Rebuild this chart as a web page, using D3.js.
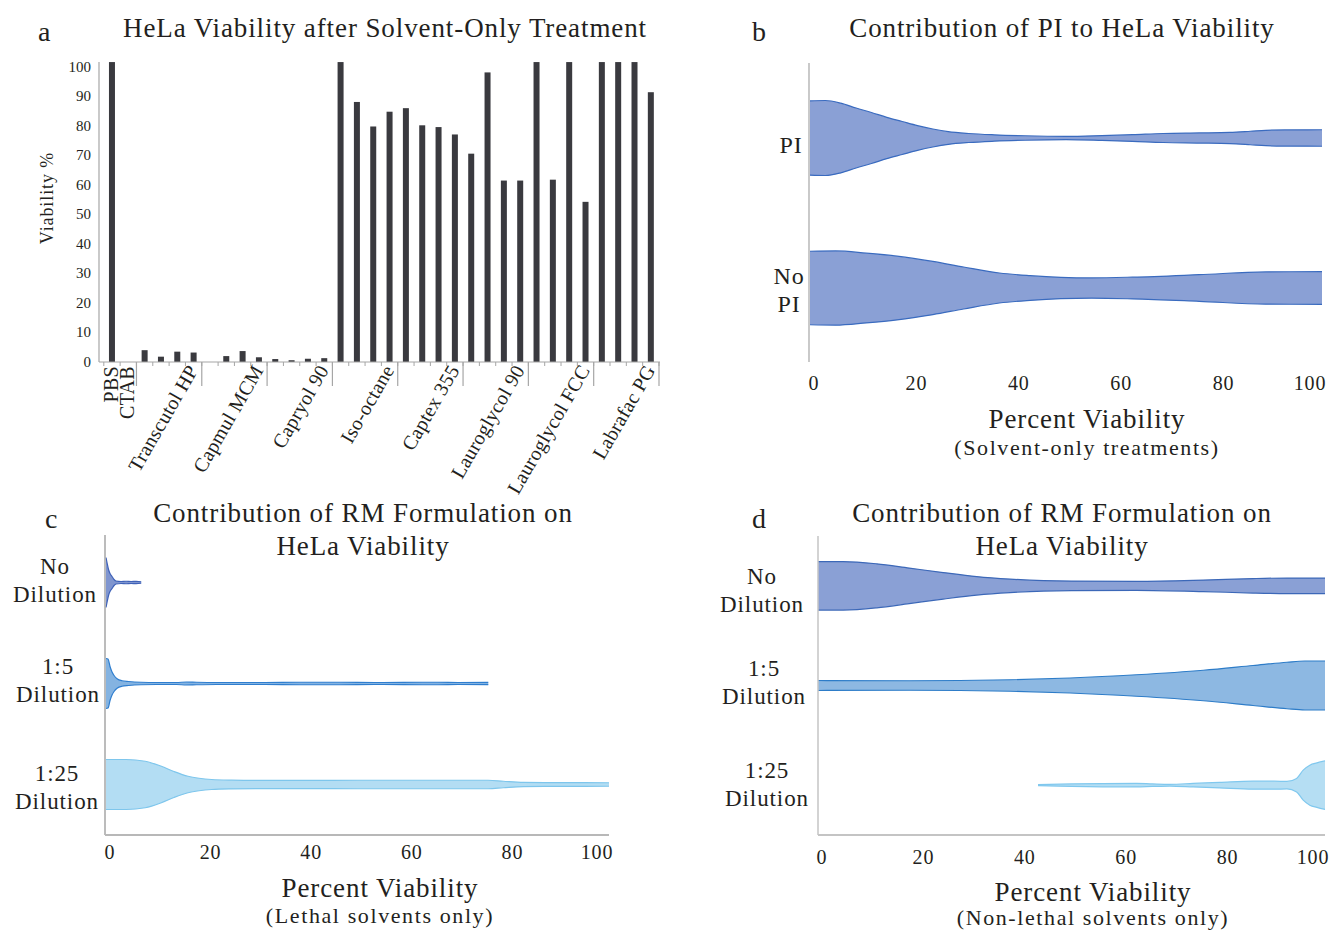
<!DOCTYPE html>
<html>
<head>
<meta charset="utf-8">
<script src="https://cdn.jsdelivr.net/npm/d3@7"></script>
<style>
  body { margin: 0; background: #fff; }
  text { font-family: "Liberation Serif", "DejaVu Serif", serif; fill: #231f20; letter-spacing: 0.9px; }
</style>
</head>
<body>
<svg id="fig" width="1332" height="931"></svg>
<script>
// ---- panel a: solvent-only bars ----
const solvents = ["PBS", "CTAB", "Transcutol HP", "Capmul MCM", "Capryol 90", "Iso-octane",
  "Captex 355", "Lauroglycol 90", "Lauroglycol FCC", "Labrafac PG"];
const groupSizes = [1, 1, 4, 4, 4, 4, 4, 4, 4, 4];
const viability = [
  101.5,
  0,
  4.0, 1.8, 3.5, 3.2,
  0, 2.0, 3.7, 1.6,
  1.0, 0.6, 1.1, 1.3,
  101.5, 88, 79.7, 84.7,
  85.9, 80.1, 79.5, 77,
  70.5, 98, 61.4, 61.4,
  101.5, 61.7, 101.5, 54.2,
  101.5, 101.5, 101.5, 91.3
];
const viabilityTicks = [0, 10, 20, 30, 40, 50, 60, 70, 80, 90, 100];

// ---- violin profiles: [percent viability, relative density] ----
const pctTicks = [0, 20, 40, 60, 80, 100];

const piRows = ["PI", "No PI"];
const piProfile = [[0, 0.99], [3, 1.0], [6, 0.93], [9, 0.8], [12, 0.68], [15, 0.55], [18, 0.44],
  [21, 0.33], [24, 0.24], [27, 0.17], [31, 0.12], [36, 0.085], [42, 0.06], [50, 0.045], [57, 0.065],
  [63, 0.09], [69, 0.12], [76, 0.135], [82, 0.15], [86, 0.18], [89, 0.205], [93, 0.215], [100, 0.22]];
const noPiProfile = [[0, 0.98], [5, 0.99], [11, 0.93], [17, 0.85], [24, 0.71], [30, 0.56], [37, 0.4],
  [43, 0.33], [49, 0.285], [55, 0.27], [63, 0.29], [76, 0.355], [89, 0.43], [100, 0.435]];

const dilutionRows = ["No Dilution", "1:5 Dilution", "1:25 Dilution"];
const lethalNoDil = [[0, 1.0], [0.25, 0.75], [0.5, 0.52], [0.8, 0.36], [1.2, 0.24], [1.6, 0.12],
  [2.0, 0.06], [3, 0.04], [4, 0.05], [5, 0.04], [6, 0.045], [7, 0.03]];
const lethal1to5 = [[0, 1.0], [0.4, 0.98], [0.8, 0.68], [1.2, 0.46], [1.6, 0.32], [2.2, 0.19],
  [3.2, 0.11], [4.5, 0.08], [7, 0.05], [10, 0.04], [14, 0.04], [16, 0.06], [18, 0.05], [22, 0.04],
  [30, 0.04], [40, 0.05], [45, 0.05], [55, 0.04], [63, 0.05], [66, 0.05], [70, 0.04], [76, 0.045]];
const lethal1to25 = [[0, 1.0], [4, 1.0], [7.8, 0.93], [11, 0.73], [13.5, 0.52], [16.3, 0.33],
  [18.5, 0.25], [21, 0.2], [25, 0.175], [30, 0.165], [40, 0.165], [50, 0.17], [60, 0.17], [70, 0.17],
  [76, 0.17], [79, 0.13], [83, 0.085], [90, 0.075], [100, 0.07]];

const safeNoDil = [[0, 0.97], [5, 0.97], [11.6, 0.88], [18, 0.71], [24.7, 0.53], [31.3, 0.37],
  [37.9, 0.27], [44.5, 0.21], [50, 0.19], [62.8, 0.18], [76, 0.23], [85.8, 0.29], [92.5, 0.31], [100, 0.31]];
const safe1to5 = [[0, 0.2], [18, 0.19], [37.9, 0.23], [49.7, 0.3], [62.8, 0.43], [76, 0.61],
  [85.8, 0.8], [92.5, 0.93], [96, 0.98], [100, 0.98]];
const safe1to25 = [[43.4, 0.02], [50, 0.05], [56, 0.065], [62.8, 0.07], [66, 0.05], [69.4, 0.035],
  [74, 0.07], [79.2, 0.11], [85.8, 0.16], [90, 0.16], [92.5, 0.15], [94.4, 0.27], [95.7, 0.6],
  [97, 0.8], [98.4, 0.89], [100, 0.97]];

const svg = d3.select("#fig");
const axisGray = "#a6a6a6";

// ================= panel a =================
const nSlots = d3.sum(groupSizes);
const xa = d3.scaleBand().domain(d3.range(nSlots)).range([103.8, 659]);
const ya = d3.scaleLinear().domain([0, 100]).range([362, 66.5]);
const ga = svg.append("g");

ga.selectAll("rect.bar")
  .data(viability)
  .enter()
  .append("rect")
    .attr("class", "bar")
    .attr("x", (d, i) => xa(i) + xa.bandwidth() / 2 - 3)
    .attr("width", 6)
    .attr("y", d => ya(d))
    .attr("height", d => ya(0) - ya(d))
    .attr("fill", "#3a3a3f");

// axes
ga.append("line").attr("x1", 99).attr("x2", 99).attr("y1", 62).attr("y2", ya(0))
  .attr("stroke", axisGray).attr("stroke-width", 1.2);
ga.append("line").attr("x1", 99).attr("x2", 660).attr("y1", ya(0)).attr("y2", ya(0))
  .attr("stroke", axisGray).attr("stroke-width", 1.2);

// small ticks between every slot
ga.selectAll("line.minor")
  .data(d3.range(nSlots + 1))
  .enter()
  .append("line")
    .attr("x1", i => xa.range()[0] + i * xa.step())
    .attr("x2", i => xa.range()[0] + i * xa.step())
    .attr("y1", ya(0)).attr("y2", ya(0) + 4)
    .attr("stroke", axisGray);

ga.selectAll("text.ytick")
  .data(viabilityTicks)
  .enter()
  .append("text")
    .attr("x", 91)
    .attr("y", d => ya(d) + 5)
    .attr("text-anchor", "end")
    .style("font-size", "15px")
    .style("letter-spacing", "0px")
    .text(d => d);

ga.append("text")
  .attr("transform", "translate(53,198) rotate(-90)")
  .attr("text-anchor", "middle")
  .style("font-size", "18px")
  .text("Viability %");

// group separators and labels
let start = 0;
solvents.forEach((name, gi) => {
  const size = groupSizes[gi];
  const end = start + size;
  const xEnd = xa.range()[0] + end * xa.step();
  if (size > 1) {
    ga.append("line").attr("x1", xEnd).attr("x2", xEnd).attr("y1", ya(0)).attr("y2", ya(0) + 24)
      .attr("stroke", axisGray).attr("stroke-width", 1.2);
    if (gi === 2) {
      const xs = xa.range()[0] + start * xa.step();
      ga.append("line").attr("x1", xs).attr("x2", xs).attr("y1", ya(0)).attr("y2", ya(0) + 24)
        .attr("stroke", axisGray).attr("stroke-width", 1.2);
    }
    ga.append("text")
      .attr("transform", `translate(${xEnd - 3},${ya(0) + 8}) rotate(-60)`)
      .attr("text-anchor", "end")
      .style("font-size", "20px")
      .style("letter-spacing", "0.3px")
      .text(name);
  } else {
    ga.append("text")
      .attr("transform", `translate(${xa(start) + xa.bandwidth() / 2 + 6},${ya(0) + 4}) rotate(-90)`)
      .attr("text-anchor", "end")
      .style("font-size", "20px")
      .style("letter-spacing", "0.3px")
      .text(name);
  }
  start = end;
});

ga.append("text").attr("x", 385).attr("y", 37).attr("text-anchor", "middle")
  .style("font-size", "27px").text("HeLa Viability after Solvent-Only Treatment");
ga.append("text").attr("x", 38).attr("y", 41).style("font-size", "28px").text("a");

// ================= violin helpers =================
function drawViolin(g, x, yc, w, profile, fill, stroke) {
  const area = d3.area()
    .x(d => x(d[0]))
    .y0(d => yc - w(d[1]))
    .y1(d => yc + w(d[1]))
    .curve(d3.curveMonotoneX);
  g.append("path").datum(profile).attr("d", area).attr("fill", fill);
  const top = d3.line().x(d => x(d[0])).y(d => yc - w(d[1])).curve(d3.curveMonotoneX);
  const bot = d3.line().x(d => x(d[0])).y(d => yc + w(d[1])).curve(d3.curveMonotoneX);
  g.append("path").datum(profile).attr("d", top).attr("fill", "none").attr("stroke", stroke).attr("stroke-width", 1.2);
  g.append("path").datum(profile).attr("d", bot).attr("fill", "none").attr("stroke", stroke).attr("stroke-width", 1.2);
}

function rowLabel(g, x, y, lines, size) {
  const t = g.append("text").attr("text-anchor", "middle").style("font-size", size + "px");
  lines.forEach((l, i) => t.append("tspan").attr("x", x).attr("y", y + i * 28).text(l));
}

function pctTickLabels(g, x, y) {
  g.selectAll(null)
    .data(pctTicks)
    .enter()
    .append("text")
      .attr("x", d => x(d) + (d === 100 ? -12 : 4))
      .attr("y", y)
      .attr("text-anchor", "middle")
      .style("font-size", "20px")
      .text(d => d);
}

// ================= panel b =================
const xb = d3.scaleLinear().domain([0, 100]).range([810, 1322]);
const yb = d3.scaleBand().domain(piRows).range([63, 363]);
const wb = d3.scaleLinear().domain([0, 1]).range([0, 37.5]);
const gb = svg.append("g");
gb.append("line").attr("x1", 809).attr("x2", 809).attr("y1", 63).attr("y2", 362)
  .attr("stroke", axisGray).attr("stroke-width", 1.2);
const bFill = "#8aa0d5", bStroke = "#3a6bbf";
drawViolin(gb, xb, yb("PI") + yb.bandwidth() / 2, wb, piProfile, bFill, bStroke);
drawViolin(gb, xb, yb("No PI") + yb.bandwidth() / 2, wb, noPiProfile, bFill, bStroke);
rowLabel(gb, 791, yb("PI") + yb.bandwidth() / 2 + 15, ["PI"], 24);
rowLabel(gb, 789, yb("No PI") + yb.bandwidth() / 2 - 4, ["No", "PI"], 24);
pctTickLabels(gb, xb, 390);
gb.append("text").attr("x", 1087).attr("y", 428).attr("text-anchor", "middle")
  .style("font-size", "27px").text("Percent Viability");
gb.append("text").attr("x", 1087).attr("y", 455).attr("text-anchor", "middle")
  .style("font-size", "22px").style("letter-spacing", "1.6px").text("(Solvent-only treatments)");
gb.append("text").attr("x", 1062).attr("y", 37).attr("text-anchor", "middle")
  .style("font-size", "27px").text("Contribution of PI to HeLa Viability");
gb.append("text").attr("x", 752).attr("y", 41).style("font-size", "28px").text("b");

// ================= panel c =================
const xc = d3.scaleLinear().domain([0, 100]).range([106, 609]);
const yc = d3.scaleBand().domain(dilutionRows).range([532, 835]);
const wc = d3.scaleLinear().domain([0, 1]).range([0, 25]);
const gc = svg.append("g");
const lethal = [lethalNoDil, lethal1to5, lethal1to25];
const cFill = ["#7f95cf", "#84b3e1", "#b3ddf3"];
const cStroke = ["#3f62b8", "#2f7ecf", "#7ec6ec"];
dilutionRows.forEach((r, i) => drawViolin(gc, xc, yc(r) + yc.bandwidth() / 2, wc, lethal[i], cFill[i], cStroke[i]));
gc.append("line").attr("x1", 105).attr("x2", 105).attr("y1", 535).attr("y2", 835)
  .attr("stroke", axisGray).attr("stroke-width", 1.5);
gc.append("line").attr("x1", 105).attr("x2", 609).attr("y1", 835).attr("y2", 835)
  .attr("stroke", "#b8b8b8").attr("stroke-width", 2);
const cLabelX = [55, 58, 57];
const cLabelDy = [-9, -10, -4];
dilutionRows.forEach((r, i) => rowLabel(gc, cLabelX[i], yc(r) + yc.bandwidth() / 2 + cLabelDy[i],
  r.split(" "), 23));
pctTickLabels(gc, xc, 859);
gc.append("text").attr("x", 380).attr("y", 897).attr("text-anchor", "middle")
  .style("font-size", "27px").text("Percent Viability");
gc.append("text").attr("x", 380).attr("y", 923).attr("text-anchor", "middle")
  .style("font-size", "22px").style("letter-spacing", "1.6px").text("(Lethal solvents only)");
const tc = gc.append("text").attr("text-anchor", "middle").style("font-size", "27px");
tc.append("tspan").attr("x", 363).attr("y", 522).text("Contribution of RM Formulation on");
tc.append("tspan").attr("x", 363).attr("y", 555).text("HeLa Viability");
gc.append("text").attr("x", 45).attr("y", 528).style("font-size", "28px").text("c");

// ================= panel d =================
const xd = d3.scaleLinear().domain([0, 100]).range([818, 1325]);
const yd = d3.scaleBand().domain(dilutionRows).range([536, 835]);
const gd = svg.append("g");
const safe = [safeNoDil, safe1to5, safe1to25];
const dFill = ["#8aa0d5", "#8db8e2", "#b5def3"];
const dStroke = ["#3c68b8", "#2d7cc8", "#80c8ee"];
dilutionRows.forEach((r, i) => drawViolin(gd, xd, yd(r) + yd.bandwidth() / 2, wc, safe[i], dFill[i], dStroke[i]));
gd.append("line").attr("x1", 818).attr("x2", 818).attr("y1", 536).attr("y2", 835)
  .attr("stroke", "#c4c4c4").attr("stroke-width", 1.5);
gd.append("line").attr("x1", 818).attr("x2", 1325).attr("y1", 835).attr("y2", 835)
  .attr("stroke", "#c4c4c4").attr("stroke-width", 2);
const dLabelX = [762, 764, 767];
const dLabelDy = [-2, -10, -7];
dilutionRows.forEach((r, i) => rowLabel(gd, dLabelX[i], yd(r) + yd.bandwidth() / 2 + dLabelDy[i],
  r.split(" "), 23));
pctTickLabels(gd, xd, 864);
gd.append("text").attr("x", 1093).attr("y", 901).attr("text-anchor", "middle")
  .style("font-size", "27px").text("Percent Viability");
gd.append("text").attr("x", 1093).attr("y", 925).attr("text-anchor", "middle")
  .style("font-size", "22px").style("letter-spacing", "1.6px").text("(Non-lethal solvents only)");
const td = gd.append("text").attr("text-anchor", "middle").style("font-size", "27px");
td.append("tspan").attr("x", 1062).attr("y", 522).text("Contribution of RM Formulation on");
td.append("tspan").attr("x", 1062).attr("y", 555).text("HeLa Viability");
gd.append("text").attr("x", 752).attr("y", 528).style("font-size", "28px").text("d");
</script>
</body>
</html>
